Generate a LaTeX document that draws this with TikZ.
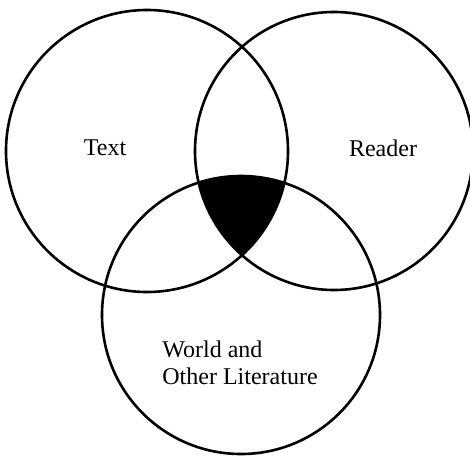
\documentclass[tikz,border=0pt]{standalone}
\usepackage{fontspec}
\setmainfont{Liberation Serif}
\usetikzlibrary{positioning}

\begin{document}
\begin{tikzpicture}[
        x=0.5pt, y=0.5pt,
        font=\fontsize{12}{13.5}\selectfont,
        ring/.style={line width=1.3pt},
        lbl/.style={inner sep=0pt}
    ]
    % --- Rahmen ---
    \useasboundingbox (0,0) rectangle (470,456);

    % --- Parameter ---
    \def\RText{141}
    \def\RReader{139}
    \def\RWorld{139}

    \coordinate (CText)   at (147,305);
    \coordinate (CReader) at (334,305);
    \coordinate (CWorld)  at (241,141);

    % --- gemeinsame Schnittmenge (schwarz) ---
    \begin{scope}
        \clip (CText) circle (\RText);
        \clip (CReader) circle (\RReader);
        \fill[black] (CWorld) circle (\RWorld);
    \end{scope}

    % --- Kreise ---
    \draw[ring] (CText) circle (\RText);
    \draw[ring] (CReader) circle (\RReader);
    \draw[ring] (CWorld) circle (\RWorld);

    % --- Beschriftungen ---
    \node[lbl] (text)   at (105,308) {Text};
    \node[lbl] (reader) at (383,308) {Reader};
    \node[lbl, anchor=west, align=left] (world) at (162,93) {World and\\Other Literature};
\end{tikzpicture}
\end{document}
